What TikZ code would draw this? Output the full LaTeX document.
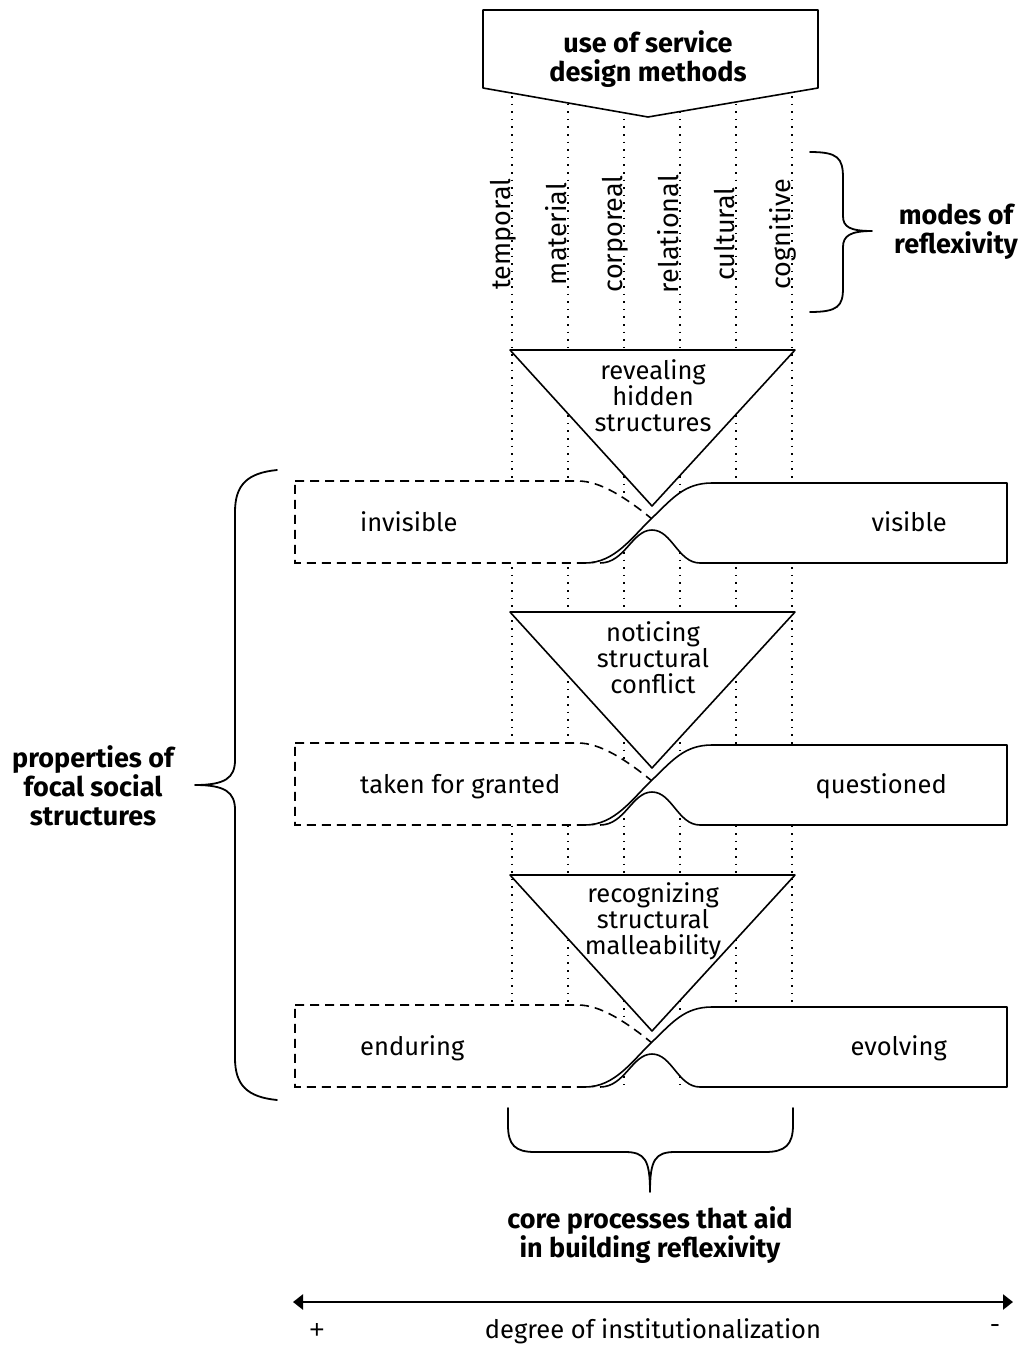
\documentclass[tikz,border=0pt]{standalone}
\usepackage{fontspec}
\setmainfont{Fira Sans}
\newfontfamily\signfont{Liberation Sans}
\usetikzlibrary{arrows.meta}
\begin{document}
\begin{tikzpicture}[x=1pt,y=-1pt,
  outline/.style={line width=1.6pt, line join=round},
  guide/.style={line width=1.6pt, dash pattern=on 1.6pt off 6pt},
  ghost/.style={line width=1.6pt, dash pattern=on 9pt off 6pt, fill=white},
  solidbox/.style={outline, fill=white},
  lbl/.style={font=\fontsize{25.5}{26}\selectfont, inner sep=0pt},
  modelbl/.style={font=\fontsize{27}{28}\selectfont, inner sep=0pt},
  proc/.style={font=\fontsize{25.5}{26}\selectfont, inner sep=0pt, align=center},
  heading/.style={font=\fontsize{27}{29}\selectfont\bfseries, align=center, inner sep=0pt},
  bracepath/.style={line width=1.8pt, line cap=round, line join=round},
  axis/.style={line width=2.6pt, {Triangle[length=10pt,width=15pt]}-{Triangle[length=10pt,width=15pt]}}
]
\useasboundingbox (0,0) rectangle (1023,1347);

% guide lines of the six modes
\foreach \gx/\gi in {512/1,568/2,624/3,680/4,736/5,792/6}{
  \coordinate (gtop\gi) at (\gx,20);
  \coordinate (gbot\gi) at (\gx,1085);
  \draw[guide] (gtop\gi) -- (gbot\gi);
}

% top arrow box
\draw[outline, fill=white] (483,10) -- (818,10) -- (818,88) -- (648,117) -- (483,88) -- cycle;
\node[heading] (methods) at (648,59) {use of service\\design methods};

% mode labels
\foreach \lx/\lt/\li in {510/temporal/1,566/material/2,622/corporeal/3,678/relational/4,734/cultural/5,790/cognitive/6}{
  \node[modelbl, rotate=90, anchor=base] (mode\li) at (\lx,234) {\lt};
}

% brace for the modes
\draw[bracepath] (810,152) .. controls (838,152) and (843,158) .. (843,178) -- (843,216)
  .. controls (843,227) and (850,231) .. (872,231)
  .. controls (850,231) and (843,236) .. (843,247) -- (843,288)
  .. controls (843,306) and (838,312) .. (810,312);
\node[heading] (modes) at (956,232) {modes of\\reflexivity};

% the three property rows
\foreach \o/\ri/\lt/\rt in {0/1/invisible/visible, 262/2/taken for granted/questioned, 524/3/enduring/evolving}{
  % institutionalised side (dashed)
  \draw[ghost] (295,481+\o) -- (578,481+\o)
    .. controls (600,481+\o) and (625,497+\o) .. (652,519+\o)
    .. controls (628,545+\o) and (615,563+\o) .. (585,563+\o)
    -- (295,563+\o) -- cycle;
  % reflexive side (solid)
  \draw[solidbox] (585,563+\o)
    .. controls (615,563+\o) and (632,537+\o) .. (652,518+\o)
    .. controls (672,499+\o) and (684,483+\o) .. (712,483+\o)
    -- (1007,483+\o) -- (1007,563+\o) -- (700,563+\o)
    .. controls (678,563+\o) and (672,530+\o) .. (652,530+\o)
    .. controls (632,530+\o) and (625,563+\o) .. (600,563+\o);
  \node[lbl, anchor=base west] (left\ri) at (360,531+\o) {\lt};
  \node[lbl, anchor=base east] (right\ri) at (947,531+\o) {\rt};
}

% core processes
\foreach \o/\pi/\pt in {0/1/{revealing\\hidden\\structures}, 262/2/{noticing\\structural\\conflict}, 525/3/{recognizing\\structural\\malleability}}{
  \draw[outline, fill=white] (510,350+\o) -- (795,350+\o) -- (652,506+\o) -- cycle;
  \node[proc] (proc\pi) at (653,396+\o) {\pt};
}

% brace for the properties
\draw[bracepath] (277,470) .. controls (247,473) and (235,485) .. (235,512) -- (235,760)
  .. controls (235,778) and (225,785) .. (195,785)
  .. controls (225,785) and (235,792) .. (235,810) -- (235,1058)
  .. controls (235,1085) and (247,1097) .. (277,1100);
\node[heading] (props) at (93,786) {properties of\\focal social\\structures};

% brace for the processes
\draw[bracepath] (508,1108) -- (508,1125) .. controls (508,1145) and (515,1152) .. (535,1152)
  -- (625,1152) .. controls (645,1152) and (650,1160) .. (650,1192)
  .. controls (650,1160) and (655,1152) .. (675,1152)
  -- (765,1152) .. controls (785,1152) and (793,1145) .. (793,1125) -- (793,1108);
\node[heading] (core) at (650,1235) {core processes that aid\\in building reflexivity};

% degree axis
\coordinate (axl) at (293,1302);
\coordinate (axr) at (1013,1302);
\draw[axis] (axl) -- (axr);
\node[font=\signfont\fontsize{26}{26}\selectfont, inner sep=0pt] (plus) at (317,1331) {+};
\node[lbl] (degree) at (653,1331) {degree of institutionalization};
\node[lbl] (minus) at (995,1329) {-};
\end{tikzpicture}
\end{document}
